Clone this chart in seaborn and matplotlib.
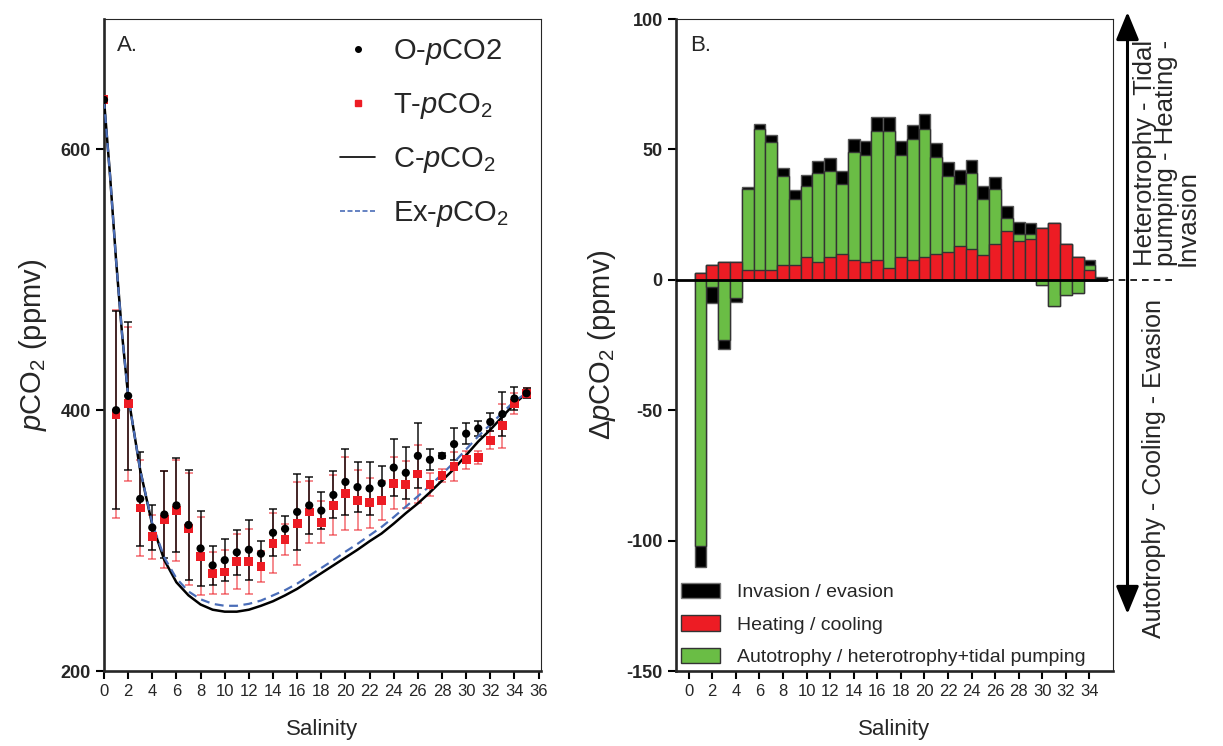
import numpy as np
import matplotlib
matplotlib.use('Agg')
import matplotlib.pyplot as plt
import seaborn as sns
from matplotlib.lines import Line2D
from matplotlib.patches import Patch, FancyArrowPatch

# ---- panel A: observed / temperature corrected pCO2 along salinity ----
salinity = list(range(0, 36))
o_pco2 = [638, 400, 411, 332, 310, 320, 327, 312, 294, 281, 285, 291, 293, 290, 306, 309,
          322, 327, 323, 335, 345, 341, 340, 344, 356, 352, 365, 362, 365, 374, 382, 386,
          391, 397, 409, 413]
o_err = [0, 76, 57, 36, 17, 33, 36, 42, 29, 15, 16, 17, 23, 10, 18, 10,
         29, 22, 14, 18, 25, 19, 20, 13, 22, 20, 25, 8, 2, 12, 8, 6,
         7, 17, 9, 4]
t_pco2 = [638, 397, 405, 325, 303, 316, 323, 309, 288, 275, 276, 284, 284, 280, 298, 301,
          313, 322, 314, 327, 336, 331, 329, 331, 344, 343, 351, 343, 350, 357, 362, 364,
          377, 388, 405, 413]
t_err = [0, 80, 59, 37, 17, 37, 39, 43, 30, 16, 17, 21, 25, 12, 23, 12,
         32, 24, 16, 23, 28, 23, 19, 15, 20, 18, 22, 9, 5, 11, 7, 5,
         7, 17, 8, 4]

# conservative mixing (C) and extended (Ex) curves
curve_sal = [0, 0.5, 1, 1.5, 2, 3, 4, 5, 6, 7, 8, 9, 10, 11, 12, 13, 14, 15, 16, 17, 18,
             19, 20, 21, 22, 23, 24, 25, 26, 27, 28, 29, 30, 31, 32, 33, 34, 35]
c_pco2 = [638, 580, 515, 458, 411, 354, 312, 285, 268, 258, 251, 247, 245.5, 245.5, 247,
          250, 253.5, 258, 263, 269, 275, 281, 287, 293, 299.5, 305.5, 313, 321, 328.5,
          337, 346, 355, 365.5, 376, 385, 395, 405, 413]
ex_pco2 = [638, 580, 515, 458, 411, 354, 313, 287, 271, 261, 255, 251.5, 250, 250, 251.5,
           254, 258, 262, 267, 273, 279, 285, 291.5, 297.5, 304, 310.5, 318, 326, 334,
           342, 351, 360, 370, 380, 389, 398, 407, 413]

# ---- panel B: contributions to delta pCO2 ----
sal_b = list(range(1, 36))
heating = [2.7, 5.8, 6.7, 6.7, 3.6, 3.6, 3.6, 5.8, 5.8, 8.7, 6.7, 8.7, 9.9, 7.7, 6.7, 7.7,
           4.6, 8.7, 7.7, 8.7, 9.9, 10.8, 12.8, 11.8, 9.7, 13.7, 18.7, 14.7, 15.6, 19.9,
           21.8, 13.7, 8.7, 3.6, 0]
biology = [-102, -2.8, -23, -7, 31.4, 54.4, 49.4, 33.9, 25, 27.2, 34.2, 33.1, 27, 41.3,
           41.2, 49.2, 52.3, 39.2, 46.3, 49.3, 37, 28.9, 24, 29.2, 21.1, 21.2, 5, 3, 2.1,
           -2.1, -10, -6, -5, 2.0, 0]
exchange = [-8, -6.2, -3.5, -1.7, 0.4, 1.6, 2.4, 3.2, 3.7, 4.1, 4.5, 4.9, 4.9, 5.1, 5.3,
            5.5, 5.5, 5.4, 5.5, 5.5, 5.5, 5.6, 5.4, 5.0, 5.0, 4.7, 4.5, 4.3, 4.1, 0, 0, 0,
            0, 2.0, 0.9]

RED = '#ED1C24'
GREEN = '#6ABD45'
BLUE = '#4A6DB8'

sns.set_style('ticks')
plt.rcParams['font.family'] = ['Liberation Sans', 'DejaVu Sans']
plt.rcParams['mathtext.fontset'] = 'custom'
plt.rcParams['mathtext.rm'] = 'Liberation Sans'
plt.rcParams['mathtext.it'] = 'Liberation Sans:italic'
plt.rcParams['axes.unicode_minus'] = False

fig = plt.figure(figsize=(12.23, 7.46), dpi=100)
ax1 = fig.add_axes([104 / 1223, 75 / 746, 437 / 1223, 652 / 746])
ax2 = fig.add_axes([676 / 1223, 75 / 746, 437 / 1223, 652 / 746])

for ax in (ax1, ax2):
    ax.spines['left'].set_linewidth(1.9)
    ax.spines['bottom'].set_linewidth(1.9)
    ax.spines['top'].set_linewidth(0.8)
    ax.spines['right'].set_linewidth(0.8)
    ax.tick_params(axis='both', length=6, width=1.5, color='black')
    ax.tick_params(axis='x', labelsize=12)
    ax.tick_params(axis='y', labelsize=13)

# ---- A ----
ax1.errorbar(salinity, t_pco2, yerr=t_err, fmt='none', ecolor=RED, alpha=0.6,
             elinewidth=1.2, capsize=3, capthick=1.2, zorder=2)
ax1.errorbar(salinity, o_pco2, yerr=o_err, fmt='none', ecolor='black', alpha=0.85,
             elinewidth=1.2, capsize=3, capthick=1.2, zorder=3)
sns.lineplot(x=curve_sal, y=c_pco2, color='black', linewidth=1.8, ax=ax1, zorder=4)
sns.lineplot(x=curve_sal, y=ex_pco2, color=BLUE, linewidth=1.6, linestyle=(0, (4, 2.5)),
             ax=ax1, zorder=4)
sns.scatterplot(x=salinity, y=t_pco2, marker='s', color=RED, s=40, edgecolor='none',
                ax=ax1, zorder=5)
sns.scatterplot(x=salinity, y=o_pco2, marker='o', color='black', s=35, edgecolor='none',
                ax=ax1, zorder=6)

ax1.set_xlim(0, 36.2)
ax1.set_ylim(200, 700)
ax1.set_xticks(range(0, 37, 2))
ax1.set_yticks([200, 400, 600])
ax1.set_yticklabels(['200', '400', '600'], fontweight='bold')
ax1.set_xlabel('Salinity', fontsize=16, labelpad=14)
ax1.set_ylabel(r'$\mathit{p}$CO$_2$ (ppmv)', fontsize=21, labelpad=8)
ax1.text(0.03, 0.975, 'A.', transform=ax1.transAxes, fontsize=16, va='top')

a_handles = [Line2D([], [], marker='o', color='black', ls='none', markersize=4),
             Line2D([], [], marker='s', color=RED, ls='none', markersize=5),
             Line2D([], [], color='black', lw=1.2),
             Line2D([], [], color=BLUE, lw=1.2, ls=(0, (3, 1.5)))]
a_labels = [r'O-$\mathit{p}$CO2', r'T-$\mathit{p}$CO$_2$', r'C-$\mathit{p}$CO$_2$',
            r'Ex-$\mathit{p}$CO$_2$']
ax1.legend(a_handles, a_labels, loc='upper left', bbox_to_anchor=(0.48, 1.012),
           frameon=False, fontsize=21, handlelength=1.2, handletextpad=0.6,
           labelspacing=0.82)

# ---- B ----
red_part = np.array(heating)
green_pos = np.clip(biology, 0, None)
black_pos = np.clip(exchange, 0, None)
green_neg = np.clip(biology, None, 0)
black_neg = np.clip(exchange, None, 0)
top_black = red_part + green_pos + black_pos
top_green = red_part + green_pos
bot_black = green_neg + black_neg

layers = [(top_black, 'black', '#555555'), (top_green, GREEN, '#333333'),
          (red_part, RED, '#333333'), (bot_black, 'black', '#555555'),
          (green_neg, GREEN, '#333333')]
for vals, fc, ec in layers:
    sns.barplot(x=sal_b, y=vals, native_scale=True, width=1, color=fc, saturation=1,
                edgecolor=ec, linewidth=1, errorbar=None, ax=ax2, zorder=3)

ax2.plot([-1.1, 35.5], [0, 0], color='black', lw=2, zorder=5)
ax2.plot([35.5, 41], [0, 0], color='black', lw=1.2, ls=(0, (4, 3)), zorder=5,
         clip_on=False)

ax2.set_xlim(-1.08, 36.0)
ax2.set_ylim(-150, 100)
ax2.set_xticks(range(0, 35, 2))
ax2.set_xticklabels([str(v) for v in range(0, 35, 2)])
ax2.set_yticks([-150, -100, -50, 0, 50, 100])
ax2.set_yticklabels(['-150', '-100', '-50', '0', '50', '100'], fontweight='bold')
ax2.set_xlabel('Salinity', fontsize=16, labelpad=14)
ax2.set_ylabel('Δ' + r'$\mathit{p}$CO$_2$ (ppmv)', fontsize=21, labelpad=6)
ax2.text(0.032, 0.975, 'B.', transform=ax2.transAxes, fontsize=16, va='top')

b_handles = [Patch(facecolor='black', edgecolor='#777777'),
             Patch(facecolor=RED, edgecolor='#333333'),
             Patch(facecolor=GREEN, edgecolor='#333333')]
b_labels = ['Invasion / evasion', 'Heating / cooling',
            'Autotrophy / heterotrophy+tidal pumping']
ax2.legend(b_handles, b_labels, loc='lower left', bbox_to_anchor=(0.0, 0.0),
           frameon=False, fontsize=14, handlelength=2.0, handleheight=0.85,
           handletextpad=0.9, labelspacing=0.72, borderaxespad=0.0, borderpad=0.25)

# ---- side arrow and annotations ----
arrow = FancyArrowPatch((1127.5 / 1223, 1 - 614 / 746), (1127.5 / 1223, 1 - 12 / 746),
                        transform=fig.transFigure,
                        arrowstyle='<|-|>,head_length=1.7,head_width=0.7',
                        mutation_scale=10, lw=2.2, color='black',
                        shrinkA=0, shrinkB=0)
fig.add_artist(arrow)
fig.text(1166 / 1223, 1 - 266 / 746, 'Heterotrophy - Tidal\npumping - Heating -\nInvasion',
         rotation=90, ha='center', va='bottom', multialignment='left', fontsize=18.5,
         linespacing=0.86)
fig.text(1154 / 1223, 1 - 468 / 746, 'Autotrophy - Cooling - Evasion', rotation=90,
         ha='center', va='center', fontsize=18)

fig.savefig('out.png', dpi=100)
